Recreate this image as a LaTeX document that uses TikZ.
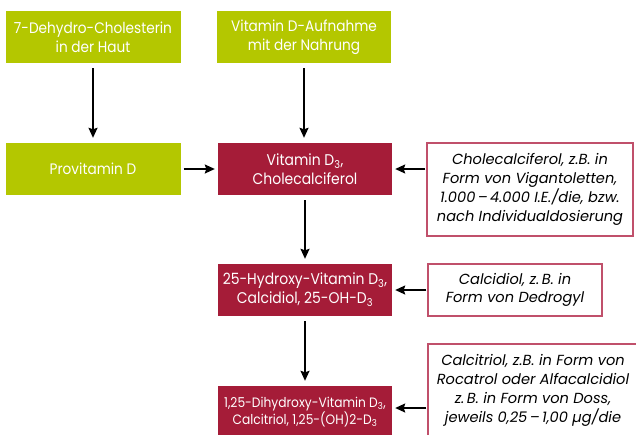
\documentclass[tikz,border=0pt]{standalone}
\usepackage{fontspec}
\setmainfont{Poppins}[FakeStretch=0.9]
\newfontfamily\popit{Poppins}[Ligatures=TeX]
\usetikzlibrary{arrows.meta}
\definecolor{vgreen}{RGB}{180,199,0}
\definecolor{vred}{RGB}{165,28,56}
\definecolor{vborder}{RGB}{192,80,107}
\tikzset{
  gbox/.style={fill=vgreen, text=white, minimum width=175pt, minimum height=52pt, align=center, inner sep=0pt, font=\fontsize{15.2}{19}\selectfont},
  rbox/.style={fill=vred, text=white, minimum width=174pt, minimum height=52pt, align=center, inner sep=0pt, font=\fontsize{15.5}{19}\selectfont},
  ibox/.style={draw=vborder, line width=1.2pt, fill=white, text=black, align=center, inner sep=0pt, font=\popit\fontsize{14.6}{18.8}\selectfont\itshape},
  arr/.style={line width=1.6pt, -{Stealth[length=10pt,width=9pt,inset=1.5pt]}}
}
\begin{document}
\begin{tikzpicture}[x=1pt,y=1pt]
\clip (0,0) rectangle (636,-434);
\fill[white] (0,0) rectangle (636,-434);
\node[gbox] (hd) at (93,-37) {7-Dehydro-Cholesterin\\in der Haut};
\node[gbox, minimum width=174pt] (na) at (304,-37) {Vitamin D-Aufnahme\\mit der Nahrung};
\node[gbox] (pv) at (93,-169) {Provitamin D};
\node[rbox] (d3) at (305,-169) {Vitamin D\textsubscript{3},\\Cholecalciferol};
\node[rbox] (oh) at (305,-290) {25-Hydroxy-Vitamin D\textsubscript{3},\\Calcidiol, 25-OH-D\textsubscript{3}};
\node[rbox, font=\fontsize{13.6}{16}\selectfont] (dh) at (305,-412) {1,25-Dihydroxy-Vitamin D\textsubscript{3},\\Calcitriol, 1,25-(OH)2-D\textsubscript{3}};
\node[ibox, minimum width=206pt, minimum height=93pt] (r1) at (530,-189.5) {Cholecalciferol, z.B. in\\Form von Vigantoletten,\\1.000\,–\,4.000 I.E./die, bzw.\\nach Individualdosierung};
\node[ibox, minimum width=174pt, minimum height=52pt] (cd) at (515,-290) {Calcidiol, z.\,B. in\\Form von Dedrogyl};
\node[ibox, minimum width=210pt, minimum height=93pt] (ct) at (533,-390.5) {Calcitriol, z.B. in Form von\\Rocatrol oder Alfacalcidiol\\z.\,B. in Form von Doss,\\jeweils 0,25\,–\,1,00 µg/die};
\draw[arr, shorten <=5pt, shorten >=5pt] (hd) -- (pv);
\draw[arr, shorten <=5pt, shorten >=5pt] (na) -- (na |- d3.north);
\draw[arr, shorten <=3pt, shorten >=3pt] (pv) -- (d3);
\draw[arr, shorten <=1pt, shorten >=3pt] (r1.west |- d3) -- (d3.east);
\draw[arr, shorten <=5pt, shorten >=5pt] (d3) -- (oh);
\draw[arr, shorten <=1pt, shorten >=3pt] (cd) -- (oh);
\draw[arr, shorten <=5pt, shorten >=5pt] (oh) -- (dh);
\coordinate (ya) at (0,-408);
\draw[arr, shorten <=1pt, shorten >=3pt] (ct.west |- ya) -- (dh.east |- ya);
\end{tikzpicture}
\end{document}
